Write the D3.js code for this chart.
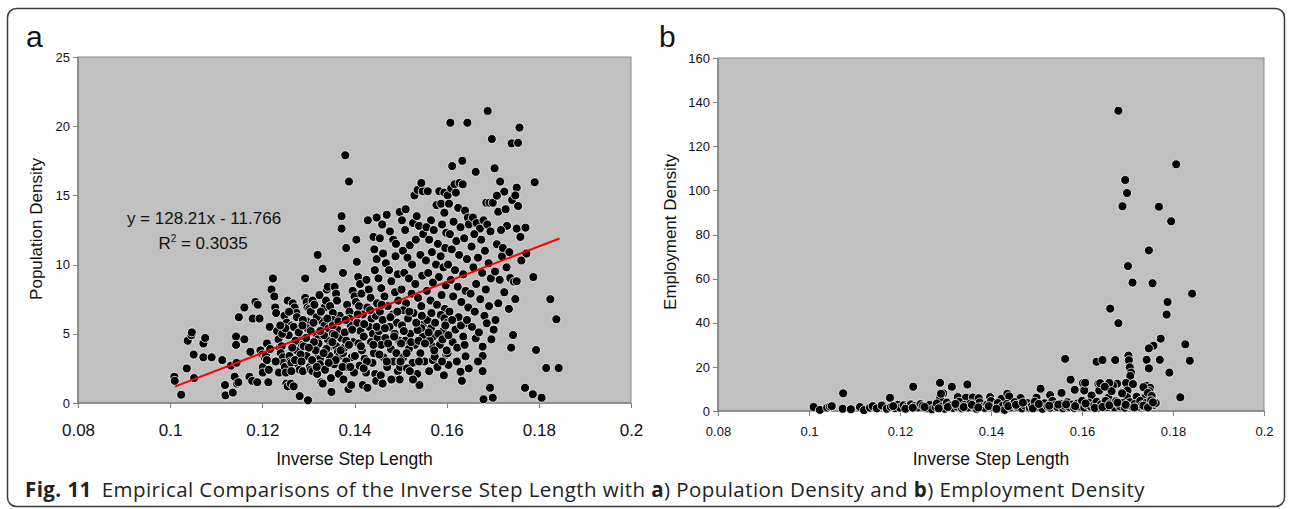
<!DOCTYPE html>
<html>
<head>
<meta charset="utf-8">
<script src="https://cdn.jsdelivr.net/npm/d3@7/dist/d3.min.js"></script>
<style>
  body { margin: 0; background: #fff; }
  .axis path, .axis line { stroke: #808080; shape-rendering: crispEdges; }
</style>
</head>
<body>
<script>
// x ticks shared by both panels
var xTicks = [0.08, 0.1, 0.12, 0.14, 0.16, 0.18, 0.2];
var popTicks = [0, 5, 10, 15, 20, 25];
var empTicks = [0, 20, 40, 60, 80, 100, 120, 140, 160];

// trend line of panel a
var fitSlope = 128.21;
var fitIntercept = -11.766;
var fitRange = [0.101, 0.1845];

// panel a: inverse step length vs population density
var popData = [
  [0.1009,1.9],[0.1010,1.6],[0.1024,0.6],[0.1036,2.5],[0.1038,4.5],[0.1046,4.9],[0.1047,5.1],[0.1051,3.5],[0.1052,1.8],
  [0.1072,4.3],[0.1076,4.7],[0.1072,3.3],[0.1090,3.3],
  [0.1113,3.1],[0.1119,1.3],[0.1120,0.55],[0.1136,0.75],[0.1132,2.7],[0.1140,1.9],[0.1145,1.4],[0.1148,1.5],[0.1143,4.8],[0.1143,4.2],[0.1144,2.9],[0.1149,6.2],
  [0.1161,6.9],[0.1161,4.6],[0.1172,1.9],[0.1178,1.6],[0.1189,1.5],[0.1174,3.7],[0.1179,6.1],[0.1185,7.3],[0.1190,7.1],[0.1194,6.1],[0.1196,3.8],[0.1200,3.5],
  [0.1201,2.6],[0.1201,2.2],[0.1205,3.3],[0.1208,3.4],[0.1210,3.1],[0.1210,4.3],[0.1213,1.5],[0.1214,2.4],[0.1216,5.5],[0.1220,8.2],[0.1223,9.0],[0.1226,7.7],
  [0.1228,6.9],[0.1230,6.5],[0.1232,5.2],[0.1235,4.6],[0.1238,4.0],[0.1236,2.2],[0.1242,4.1],[0.1240,3.6],[0.1245,3.3],[0.1246,2.9],[0.1249,2.6],
  [0.1251,2.2],[0.1252,1.4],[0.1255,1.2],[0.1248,6.3],[0.1253,5.8],[0.1255,7.4],[0.1257,4.9],[0.1259,3.4],[0.1261,3.0],[0.1263,2.9],[0.1262,1.4],[0.1268,1.2],
  [0.1264,5.6],[0.1268,5.5],[0.1266,7.2],[0.1270,6.9],[0.1274,6.5],[0.1275,6.2],[0.1275,3.8],[0.1278,2.8],[0.1281,2.4],[0.1281,0.5],[0.1284,4.6],[0.1286,4.2],
  [0.1288,2.3],[0.1290,4.1],[0.1293,9.0],[0.1293,7.6],[0.1296,7.3],[0.1298,6.9],[0.1296,5.9],[0.1298,5.4],[0.1296,3.4],[0.1299,0.2],
  [0.1302,6.8],[0.1305,6.6],[0.1303,2.6],[0.1305,2.4],[0.1309,2.3],[0.1309,7.4],[0.1313,7.1],[0.1317,5.0],[0.1320,4.6],[0.1322,4.3],[0.1322,3.5],[0.1325,3.2],
  [0.1325,2.8],[0.1320,10.7],[0.1328,1.5],[0.1331,1.4],[0.1331,9.7],[0.1330,5.9],[0.1335,5.6],[0.1335,6.9],[0.1338,7.4],[0.1340,8.2],[0.1342,8.4],[0.1342,4.6],
  [0.1346,4.1],[0.1346,3.4],[0.1349,1.8],[0.1350,0.8],
  [0.1305,5.2],[0.1312,4.4],[0.1316,3.8],[0.1308,3.1],[0.1318,6.2],[0.1324,7.8],[0.1327,6.6],[0.1334,4.9],[0.1339,3.9],[0.1336,2.4],[0.1344,5.4],[0.1347,7.0],
  [0.1356,2.8],[0.1363,5.3],[0.1368,6.3],[0.1371,4.7],[0.1366,2.1],[0.1379,5.1],[0.1384,7.1],[0.1397,4.4],[0.1394,3.3],[0.1399,2.2],[0.1387,1.0],[0.1283,3.5],
  [0.1279,5.1],[0.1288,6.0],[0.1272,4.5],[0.1265,4.0],[0.1243,5.0],[0.1250,5.4],
  [0.1353,6.5],[0.1353,6.0],[0.1353,5.6],[0.1353,5.0],[0.1357,4.9],[0.1357,8.4],[0.1360,7.9],[0.1362,7.4],[0.1360,4.1],[0.1364,3.7],[0.1367,3.4],[0.1372,13.5],
  [0.1372,12.6],[0.1382,11.2],[0.1375,9.4],[0.1376,1.7],[0.1375,3.6],[0.1378,4.0],[0.1382,4.5],[0.1382,3.0],[0.1386,2.6],[0.1389,6.6],[0.1389,6.1],[0.1392,5.6],
  [0.1393,1.3],[0.1396,8.1],[0.1400,7.7],[0.1403,7.3],[0.1380,17.9],[0.1388,16.0],
  [0.1404,11.8],[0.1405,10.2],[0.1429,13.2],[0.1448,13.4],[0.1408,9.1],[0.1412,8.6],[0.1415,7.9],[0.1410,7.0],[0.1418,6.4],[0.1406,5.8],[0.1413,5.2],[0.1420,4.8],
  [0.1409,4.3],[0.1416,3.8],[0.1422,3.2],[0.1411,2.7],[0.1425,2.2],[0.1418,1.3],[0.1428,1.1],[0.1426,8.9],[0.1431,8.2],[0.1435,7.6],[0.1428,6.9],[0.1437,6.1],
  [0.1432,5.5],[0.1440,5.0],[0.1436,4.4],[0.1442,3.6],[0.1439,2.9],[0.1445,2.1],[0.1447,1.6],[0.1444,9.6],[0.1448,10.4],[0.1443,11.1],[0.1449,7.2],[0.1446,6.3],
  [0.1450,4.7],[0.1441,12.0],
  [0.1470,13.6],[0.1498,13.8],[0.1484,11.8],[0.1490,11.5],[0.1455,11.9],[0.1462,10.8],[0.1468,10.1],[0.1475,9.6],[0.1452,9.0],[0.1480,8.8],[0.1458,8.3],[0.1488,8.0],
  [0.1465,7.7],[0.1495,7.4],[0.1472,7.0],[0.1455,6.6],[0.1483,6.4],[0.1461,6.0],[0.1492,5.8],[0.1476,5.5],[0.1453,5.2],[0.1487,5.0],[0.1467,4.7],[0.1497,4.5],
  [0.1458,4.2],[0.1479,3.9],[0.1491,3.6],[0.1463,3.3],[0.1485,3.0],[0.1471,2.6],[0.1494,2.3],[0.1457,2.0],[0.1480,1.7],[0.1461,1.4],[0.1498,3.0],[0.1499,2.6],
  [0.1494,9.3],[0.1477,12.4],[0.1460,12.9],[0.1489,10.6],
  [0.1503,13.2],[0.1510,12.5],[0.1520,11.4],[0.1527,13.0],[0.1535,13.5],[0.1540,12.8],[0.1530,15.0],[0.1537,15.4],[0.1548,15.3],[0.1545,15.9],[0.1505,11.0],
  [0.1515,10.5],[0.1525,10.0],[0.1543,10.7],[0.1508,9.4],[0.1518,9.0],[0.1532,8.6],[0.1547,9.2],[0.1502,8.2],[0.1524,7.9],[0.1538,7.6],[0.1512,7.2],[0.1545,7.0],
  [0.1506,6.7],[0.1528,6.5],[0.1516,6.1],[0.1541,5.9],[0.1503,5.6],[0.1537,5.3],[0.1521,5.0],[0.1548,4.8],[0.1510,4.5],[0.1531,4.2],[0.1518,3.9],[0.1543,3.6],
  [0.1506,3.3],[0.1526,2.9],[0.1552,3.0],[0.1514,2.5],[0.1536,2.1],[0.1527,1.7],[0.1541,1.3],[0.1549,12.2],[0.1533,11.8],[0.1511,14.0],
  [0.1527,1.7],[0.1498,1.7],[0.1480,1.7],[0.1461,1.4],[0.1500,3.0],
  [0.1559,15.3],[0.1584,15.3],[0.1595,15.2],[0.1578,14.3],[0.1588,14.4],[0.1595,13.75],[0.1566,13.2],[0.1556,12.7],[0.1572,12.5],[0.1590,12.9],[0.1599,12.3],
  [0.1562,11.8],[0.1581,11.5],[0.1597,11.2],[0.1568,10.9],[0.1587,10.6],[0.1555,10.3],[0.1577,10.0],[0.1593,9.8],[0.1560,9.4],[0.1583,9.1],[0.1570,8.7],
  [0.1598,8.5],[0.1557,8.1],[0.1589,7.8],[0.1565,7.4],[0.1579,7.1],[0.1596,6.8],[0.1587,6.36],[0.1595,6.12],[0.1571,4.07],[0.1570,4.79],[0.1566,5.4],
  [0.1548,5.64],[0.1545,5.4],[0.1537,5.27],[0.1570,3.1],[0.1574,3.35],[0.1558,6.0],[0.1575,5.8],[0.1592,5.2],[0.1563,4.5],[0.1585,4.2],[0.1599,3.5],
  [0.1580,2.6],[0.1594,2.0],[0.1562,2.3],
  [0.1608,20.25],[0.1645,20.25],[0.1612,17.12],[0.1634,17.5],[0.1602,15.0],[0.1610,15.5],[0.1617,15.8],[0.1620,15.2],[0.1628,15.9],[0.1635,15.8],[0.1605,14.4],
  [0.1625,14.1],[0.1640,13.9],[0.1646,13.4],[0.1648,12.9],[0.1615,13.1],[0.1630,12.7],[0.1607,12.2],[0.1621,11.7],[0.1638,11.9],[0.1611,11.1],[0.1627,10.7],
  [0.1644,10.4],[0.1603,10.0],[0.1618,9.6],[0.1636,9.3],[0.1609,8.9],[0.1624,8.4],[0.1641,8.1],[0.1614,7.7],[0.1632,7.3],[0.1601,5.8],[0.1606,6.6],[0.1641,5.76],
  [0.1641,3.37],[0.1630,2.26],[0.1604,2.75],[0.1602,3.6],[0.1600,3.8],[0.1619,5.3],[0.1626,6.2],[0.1647,6.9],[0.1613,4.4],[0.1636,4.8],[0.1622,3.0],[0.1648,2.5],
  [0.1633,1.6],
  [0.1689,21.1],[0.1698,19.07],[0.1663,16.7],[0.1686,14.47],[0.1693,14.47],[0.1700,14.47],[0.1657,13.4],[0.1665,13.0],[0.1672,12.6],[0.1680,13.2],[0.1688,12.9],
  [0.1695,12.4],[0.1660,12.2],[0.1675,11.8],[0.1654,11.3],[0.1683,11.0],[0.1668,10.5],[0.1691,10.1],[0.1658,9.8],[0.1677,9.4],[0.1696,9.0],[0.1664,8.6],
  [0.1685,8.2],[0.1652,7.9],[0.1673,7.5],[0.1692,7.0],[0.1661,6.6],[0.1682,6.3],[0.1687,5.76],[0.1663,4.67],[0.1694,1.1],[0.1700,0.38],[0.1680,0.27],[0.1678,2.3],
  [0.1678,3.4],[0.1678,4.07],[0.1655,5.5],[0.1670,5.1],[0.1697,4.6],[0.1668,3.0],
  [0.1758,19.9],[0.1741,18.76],[0.1755,18.8],[0.1704,16.96],[0.1716,16.0],[0.1791,15.95],[0.1725,15.27],[0.1752,15.56],[0.1709,14.98],[0.1742,14.67],[0.1749,15.0],
  [0.1755,14.23],[0.1712,13.82],[0.1752,12.6],[0.1771,12.67],[0.1760,12.0],[0.1731,12.8],[0.1709,11.47],[0.1773,10.8],[0.1788,9.1],[0.1825,7.5],[0.1838,6.05],
  [0.1816,2.53],[0.1843,2.53],[0.1794,3.83],[0.1770,1.1],[0.1787,0.63],[0.1806,0.38],[0.1744,4.91],[0.1740,4.0],[0.1749,7.51],[0.1738,9.03],[0.1746,8.77],
  [0.1752,8.8],[0.1706,6.0],[0.1702,5.3],[0.1720,10.6],[0.1730,9.8],[0.1715,8.9],[0.1725,8.0],[0.1712,7.2],[0.1735,6.8],[0.1722,11.2],[0.1718,12.5],[0.1728,14.0],
  [0.1736,10.9],[0.1705,9.5],[0.1762,10.3],
  [0.1258,6.6],[0.1271,3.1],[0.1287,5.6],[0.1295,4.7],[0.1301,4.0],[0.1311,5.8],[0.1319,2.1],[0.1326,5.2],[0.1333,3.6],[0.1341,6.1],[0.1352,4.4],[0.1359,3.1],
  [0.1365,5.9],[0.1374,2.6],[0.1381,6.0],[0.1388,4.2],[0.1395,5.3],[0.1401,3.4],[0.1407,6.4],[0.1414,4.1],[0.1421,5.7],[0.1427,3.0],[0.1434,6.7],[0.1441,4.2],
  [0.1448,5.5],[0.1454,3.5],[0.1459,7.1],[0.1466,5.4],[0.1473,4.3],[0.1478,6.2],[0.1486,4.8],[0.1493,6.6],[0.1501,4.3],[0.1507,5.2],[0.1513,3.6],[0.1519,6.6],
  [0.1523,4.4],[0.1534,5.8],[0.1539,4.5],[0.1546,6.3],[0.1553,4.3],[0.1561,5.1],[0.1567,6.5],[0.1573,3.8],[0.1582,5.0],[0.1591,4.6],[0.1597,5.6],[0.1604,4.9],
  [0.1612,6.0],[0.1623,4.0],[0.1631,5.6],[0.1639,4.2],[0.1644,6.0],[0.1229,3.0],[0.1239,5.6],[0.1217,3.9],[0.1263,2.3],[0.1285,3.0],[0.1318,2.6],[0.1344,2.9],
  [0.1370,3.8],[0.1391,2.6],[0.1420,2.5],[0.1470,3.0],[0.1520,2.3],[0.1540,3.0],[0.1590,3.0]
];

// panel b: inverse step length vs employment density
var empData = [
  [0.1075,8.0],[0.1178,6.0],[0.1229,11.0],[0.1288,12.8],[0.1314,11.0],[0.1295,8.0],[0.1288,5.7],[0.1348,12.0],[0.1290,7.8],[0.1327,6.3],[0.1345,6.0],
  [0.1360,6.1],[0.1373,5.8],[0.1398,6.3],[0.1423,5.5],[0.1436,7.8],[0.1440,6.6],[0.1465,5.9],[0.1509,10.1],[0.1500,6.0],[0.1530,7.2],[0.1555,8.2],
  [0.1563,23.6],[0.1575,14.2],[0.1602,12.7],[0.1605,9.3],[0.1584,9.6],[0.1621,7.0],[0.1632,22.3],[0.1645,23.1],[0.1636,12.4],[0.1638,9.3],[0.1662,46.4],
  [0.1673,23.1],[0.1677,12.4],[0.1668,11.6],[0.1680,39.8],[0.1680,136.1],[0.1807,111.8],[0.1695,104.7],[0.1699,98.8],[0.1689,92.8],[0.1769,92.6],[0.1796,86.0],
  [0.1747,72.8],[0.1701,65.7],[0.1711,58.2],[0.1755,57.9],[0.1842,53.2],[0.1788,49.4],[0.1786,43.7],[0.1773,32.8],[0.1757,29.6],[0.1747,28.4],[0.1827,30.2],
  [0.1837,22.8],[0.1702,25.1],[0.1703,23.0],[0.1705,19.8],[0.1708,17.4],[0.1706,15.9],[0.1742,23.2],[0.1771,23.2],[0.1747,19.3],[0.1792,17.4],[0.1816,6.2],
  [0.1607,12.8],[0.1640,12.6],[0.1660,12.7],[0.1697,12.7],[0.1742,11.5],[0.1750,10.5],[0.1748,9.0],[0.1742,7.5],[0.1738,6.0],[0.1755,5.0],[0.1752,4.0],
  [0.1700,9.3],[0.1699,6.3],[0.1735,10.8],[0.1745,8.2],[0.1753,6.8],[0.1735,3.5],[0.1755,3.2],[0.1720,6.5],[0.1688,8.0],[0.1658,6.0],[0.1665,9.0],[0.1650,11.0],
  [0.1712,12.2],
  [0.1010,1.8],[0.1024,0.5],[0.1040,1.5],[0.1046,2.0],[0.1050,2.2],[0.1074,1.0],[0.1092,0.8],[0.1112,1.8],[0.1121,0.4],[0.1134,1.5],[0.1140,2.2],[0.1149,1.2],
  [0.1160,2.5],[0.1171,1.0],[0.1180,1.8],[0.1189,1.3],[0.1195,2.8],[0.1200,1.5],[0.1208,2.6],[0.1215,1.9],[0.1224,3.0],[0.1232,2.2],[0.1240,1.6],[0.1245,3.1],
  [0.1250,2.3],[0.1259,1.2],[0.1265,2.8],[0.1270,0.8],[0.1278,1.8],[0.1281,3.4],[0.1292,2.0],[0.1298,1.0],[0.1303,3.8],[0.1310,2.5],[0.1317,1.4],[0.1325,2.0],
  [0.1330,4.2],[0.1336,1.2],[0.1342,2.8],[0.1350,1.6],[0.1355,3.4],[0.1362,2.2],[0.1368,1.0],[0.1375,3.9],[0.1380,2.0],[0.1386,1.4],[0.1392,3.0],[0.1400,4.5],
  [0.1404,1.8],[0.1410,2.6],[0.1415,3.6],[0.1420,1.2],[0.1426,2.4],[0.1430,0.5],[0.1435,3.2],[0.1442,1.6],[0.1448,2.8],[0.1452,4.0],[0.1458,1.9],[0.1462,3.0],
  [0.1468,1.2],[0.1474,2.5],[0.1480,3.6],[0.1485,1.5],[0.1490,2.3],[0.1496,4.2],[0.1502,1.8],[0.1508,2.8],[0.1513,1.0],[0.1518,3.5],[0.1524,2.1],[0.1530,1.5],
  [0.1535,4.6],[0.1540,2.6],[0.1546,1.8],[0.1552,3.3],[0.1558,1.2],[0.1562,2.4],[0.1568,4.0],[0.1572,1.8],[0.1578,2.9],[0.1583,1.4],[0.1590,3.4],[0.1596,2.0],
  [0.1600,4.6],[0.1605,1.6],[0.1610,2.8],[0.1615,3.8],[0.1620,1.9],[0.1626,2.6],[0.1632,4.2],[0.1636,1.5],[0.1642,3.0],[0.1648,2.2],[0.1652,4.6],[0.1657,1.8],
  [0.1662,3.4],[0.1666,2.4],[0.1671,1.6],[0.1675,4.4],[0.1680,2.9],[0.1684,2.0],[0.1690,3.6],[0.1694,1.5],[0.1700,2.6],[0.1705,4.0],[0.1710,2.0],[0.1716,3.2],
  [0.1722,1.8],[0.1728,4.6],[0.1732,2.6],[0.1738,1.9],[0.1742,3.8],[0.1748,2.2],[0.1752,4.8],[0.1758,2.8],[0.1762,3.6],
  [0.1185,2.2],[0.1212,1.0],[0.1228,1.5],[0.1254,1.8],[0.1285,1.2],[0.1305,1.8],[0.1322,3.2],[0.1340,1.8],[0.1358,2.8],[0.1372,1.6],[0.1395,2.2],[0.1412,1.0],
  [0.1438,2.2],[0.1455,2.8],[0.1470,3.8],[0.1492,1.2],[0.1505,3.2],[0.1528,2.4],[0.1548,2.9],[0.1565,3.0],[0.1585,2.2],[0.1608,3.4],[0.1628,1.4],[0.1645,1.8],
  [0.1660,2.6],[0.1678,3.8],[0.1696,2.8],[0.1715,1.6],[0.1735,2.4],[0.1745,1.6],[0.1756,3.9]
];

var FONT = "Arial, 'Liberation Sans', Helvetica, sans-serif";
var CAPFONT = "'Open Sans', 'Noto Sans', sans-serif";

var W = 1293, H = 509;
var svg = d3.select("body").append("svg")
  .attr("width", W)
  .attr("height", H)
  .style("font-family", FONT);

// outer frame
svg.append("rect")
  .attr("x", 7.5).attr("y", 8.5)
  .attr("width", 1277).attr("height", 498)
  .attr("rx", 9)
  .attr("fill", "none")
  .attr("stroke", "#3a3a3a")
  .attr("stroke-width", 1.5);

function drawPanel(opt) {
  var g = svg.append("g");
  var x = d3.scaleLinear().domain([0.08, 0.2]).range([opt.left, opt.right]);
  var y = d3.scaleLinear().domain(opt.yDomain).range([opt.bottom, opt.top]);

  g.append("rect")
    .attr("x", opt.left).attr("y", opt.top)
    .attr("width", opt.right - opt.left)
    .attr("height", opt.bottom - opt.top)
    .attr("fill", "#c0c0c0")
    .attr("stroke", "#8c8c8c")
    .attr("stroke-width", 1);

  var xAxis = g.append("g")
    .attr("class", "axis")
    .attr("transform", "translate(0," + opt.bottom + ")")
    .call(d3.axisBottom(x).tickValues(xTicks).tickSize(5).tickSizeOuter(0).tickFormat(function(d) { return String(d); }));
  xAxis.selectAll("text")
    .attr("y", opt.xLabelDy)
    .style("font-family", FONT)
    .style("font-size", opt.xTickFont + "px");
  xAxis.select(".domain").remove();

  var yAxis = g.append("g")
    .attr("class", "axis")
    .attr("transform", "translate(" + opt.left + ",0)")
    .call(d3.axisLeft(y).tickValues(opt.yTicks).tickSize(5).tickSizeOuter(0));
  yAxis.selectAll("text")
    .attr("x", -8)
    .style("font-family", FONT)
    .style("font-size", opt.yTickFont + "px");
  yAxis.select(".domain").remove();

  // bottom and left axis lines over the box edge
  g.append("line")
    .attr("x1", opt.left).attr("x2", opt.right)
    .attr("y1", opt.bottom).attr("y2", opt.bottom)
    .attr("stroke", "#808080").attr("stroke-width", 1.5);
  g.append("line")
    .attr("x1", opt.left).attr("x2", opt.left)
    .attr("y1", opt.top).attr("y2", opt.bottom)
    .attr("stroke", "#808080").attr("stroke-width", 1.5);

  g.selectAll("g.axis text").style("fill", "#111");

  g.selectAll("circle.dot")
    .data(opt.data)
    .enter().append("circle")
    .attr("class", "dot")
    .attr("cx", function(d) { return x(d[0]); })
    .attr("cy", function(d) { return y(d[1]); })
    .attr("r", 4.5)
    .attr("fill", "#000")
    .attr("stroke", "#fff")
    .attr("stroke-width", 0.8);

  // titles
  g.append("text")
    .attr("x", (opt.left + opt.right) / 2)
    .attr("y", 465)
    .attr("text-anchor", "middle")
    .style("font-size", "17.5px")
    .style("fill", "#111")
    .text("Inverse Step Length");

  g.append("text")
    .attr("transform", "translate(" + opt.yTitleX + "," + opt.yTitleY + ") rotate(-90)")
    .attr("text-anchor", "middle")
    .style("font-size", "17px")
    .style("fill", "#111")
    .text(opt.yTitle);

  g.append("text")
    .attr("x", opt.letterX)
    .attr("y", 47)
    .style("font-size", "30px")
    .style("fill", "#111")
    .text(opt.letter);

  return { g: g, x: x, y: y };
}

var pa = drawPanel({
  left: 78, right: 631, top: 57, bottom: 403,
  yDomain: [0, 25], yTicks: popTicks, data: popData,
  xLabelDy: 21, xTickFont: 17, yTickFont: 13,
  yTitle: "Population Density", yTitleX: 42, yTitleY: 229, letter: "a", letterX: 26
});

// regression line
pa.g.append("line")
  .attr("x1", pa.x(fitRange[0]))
  .attr("y1", pa.y(fitSlope * fitRange[0] + fitIntercept))
  .attr("x2", pa.x(fitRange[1]))
  .attr("y2", pa.y(fitSlope * fitRange[1] + fitIntercept))
  .attr("stroke", "#ff0000")
  .attr("stroke-width", 2);

pa.g.append("text")
  .attr("x", 204).attr("y", 224)
  .attr("text-anchor", "middle")
  .style("font-size", "17px")
  .style("fill", "#111")
  .text("y = " + fitSlope + "x - " + Math.abs(fitIntercept));

var r2 = pa.g.append("text")
  .attr("x", 203).attr("y", 249)
  .attr("text-anchor", "middle")
  .style("font-size", "17px")
  .style("fill", "#111");
r2.append("tspan").text("R");
r2.append("tspan").attr("dy", -7).style("font-size", "10px").text("2");
r2.append("tspan").attr("dy", 7).text(" = 0.3035");

drawPanel({
  left: 718, right: 1264, top: 58, bottom: 411,
  yDomain: [0, 160], yTicks: empTicks, data: empData,
  xLabelDy: 16, xTickFont: 13, yTickFont: 13,
  yTitle: "Employment Density", yTitleX: 676, yTitleY: 232, letter: "b", letterX: 659
});

// caption, stretched to the width it takes in the figure
var cap = svg.append("text")
  .attr("x", 25).attr("y", 497)
  .style("font-family", CAPFONT)
  .style("font-size", "20.5px")
  .style("fill", "#222");
cap.append("tspan").style("font-weight", "bold").text("Fig. 11");
cap.append("tspan").attr("dx", 10).text("Empirical Comparisons of the Inverse Step Length with ");
cap.append("tspan").style("font-weight", "bold").text("a");
cap.append("tspan").text(") Population Density and ");
cap.append("tspan").style("font-weight", "bold").text("b");
cap.append("tspan").text(") Employment Density");

var capLen = cap.node().getComputedTextLength();
var capChars = cap.text().length;
var capTarget = 1135 - 25;
if (capLen < capTarget) {
  cap.style("letter-spacing", ((capTarget - capLen) / capChars) + "px");
}
</script>
</body>
</html>
